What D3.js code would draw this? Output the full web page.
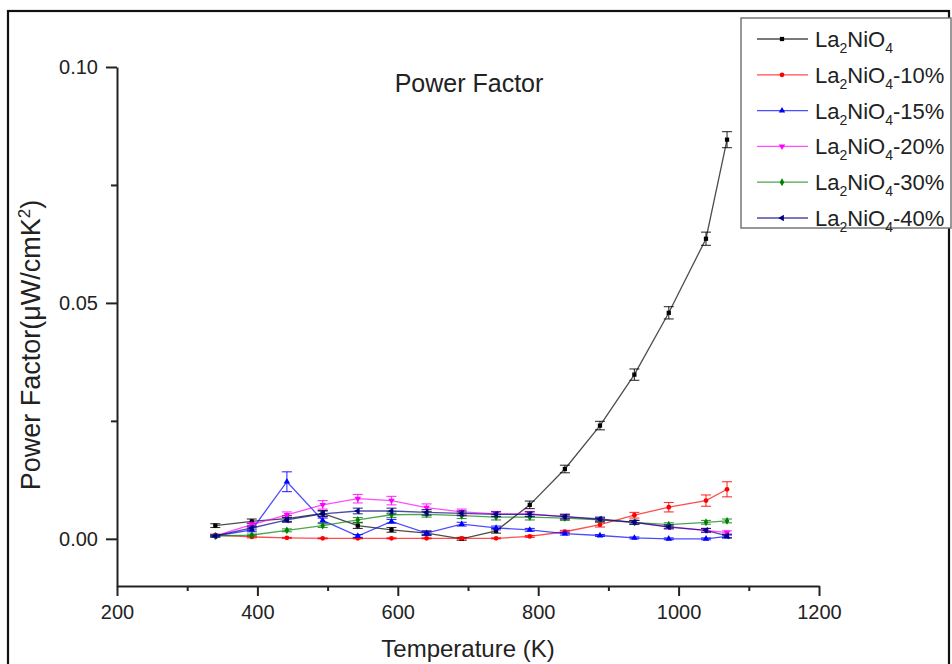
<!DOCTYPE html>
<html>
<head>
<meta charset="utf-8">
<script src="https://cdn.jsdelivr.net/npm/d3@7"></script>
<style>
  html, body { margin: 0; padding: 0; background: #fff; }
  svg { display: block; font-family: "Liberation Sans", Arial, sans-serif; }
</style>
</head>
<body>
<svg id="chart" width="952" height="664"></svg>
<script>
// ---------- data ----------
const temperatures = [340, 392, 442, 493, 543, 591, 641, 691, 740, 788, 838, 888, 937, 986, 1039, 1069];

const seriesNames = ["", "-10%", "-15%", "-20%", "-30%", "-40%"];
const seriesColors = ["#000000", "#ff0000", "#0000ff", "#ff00ff", "#008000", "#000080"];
const seriesSymbols = ["square", "circle", "triangleUp", "triangleDown", "diamond", "triangleLeft"];

const pf0  = [0.0028, 0.0037, 0.0043, 0.0054, 0.0028, 0.0019, 0.0012, 0.0000, 0.0017, 0.0072, 0.0148, 0.0240, 0.0348, 0.0479, 0.0636, 0.0846];
const err0 = [0.0004, 0.0005, 0.0006, 0.0006, 0.0006, 0.0005, 0.0005, 0.0003, 0.0005, 0.0008, 0.0008, 0.0009, 0.0012, 0.0013, 0.0014, 0.0017];

const pf10  = [0.0008, 0.0004, 0.0002, 0.0001, 0.0001, 0.0001, 0.0001, 0.0001, 0.0001, 0.0005, 0.0015, 0.0030, 0.0050, 0.0067, 0.0081, 0.0105];
const err10 = [0.0002, 0.0002, 0.0001, 0.0001, 0.0001, 0.0001, 0.0001, 0.0001, 0.0001, 0.0002, 0.0003, 0.0005, 0.0006, 0.0010, 0.0012, 0.0016];

const pf15  = [0.0006, 0.0019, 0.0121, 0.0039, 0.0006, 0.0037, 0.0012, 0.0031, 0.0023, 0.0019, 0.0011, 0.0007, 0.0002, 0.0000, 0.0000, 0.0005];
const err15 = [0.0002, 0.0004, 0.0021, 0.0005, 0.0003, 0.0004, 0.0003, 0.0004, 0.0004, 0.0003, 0.0003, 0.0002, 0.0002, 0.0002, 0.0002, 0.0003];

const pf20  = [0.0006, 0.0030, 0.0051, 0.0072, 0.0085, 0.0081, 0.0066, 0.0057, 0.0053, 0.0053, 0.0047, 0.0040, 0.0035, 0.0026, 0.0018, 0.0013];
const err20 = [0.0002, 0.0005, 0.0006, 0.0009, 0.0009, 0.0009, 0.0008, 0.0006, 0.0005, 0.0005, 0.0005, 0.0004, 0.0004, 0.0004, 0.0004, 0.0004];

const pf30  = [0.0006, 0.0008, 0.0018, 0.0028, 0.0040, 0.0051, 0.0052, 0.0049, 0.0046, 0.0046, 0.0044, 0.0040, 0.0035, 0.0030, 0.0035, 0.0038];
const err30 = [0.0002, 0.0002, 0.0003, 0.0004, 0.0005, 0.0006, 0.0006, 0.0006, 0.0006, 0.0006, 0.0005, 0.0004, 0.0004, 0.0004, 0.0004, 0.0004];

const pf40  = [0.0006, 0.0023, 0.0040, 0.0053, 0.0059, 0.0059, 0.0056, 0.0054, 0.0052, 0.0052, 0.0047, 0.0042, 0.0035, 0.0025, 0.0018, 0.0006];
const err40 = [0.0002, 0.0004, 0.0005, 0.0006, 0.0006, 0.0006, 0.0006, 0.0005, 0.0005, 0.0005, 0.0005, 0.0004, 0.0004, 0.0004, 0.0004, 0.0004];

const xMajorTicks = [200, 400, 600, 800, 1000, 1200];
const xMinorTicks = [300, 500, 700, 900, 1100];
const yMajorTicks = [0.00, 0.05, 0.10];
const yMinorTicks = [0.025, 0.075];

const titleText = "Power Factor";
const xLabelText = "Temperature (K)";

// ---------- build ----------
const seriesValues = [pf0, pf10, pf15, pf20, pf30, pf40];
const seriesErrors = [err0, err10, err15, err20, err30, err40];

const svg = d3.select("#chart");
const textColor = "#222";

// outer frame
svg.append("rect")
  .attr("x", 8).attr("y", 11).attr("width", 941).attr("height", 700)
  .attr("fill", "none").attr("stroke", "#111").attr("stroke-width", 2.2);

const x = d3.scaleLinear().domain([200, 1200]).range([117, 819]);
const y = d3.scaleLinear().domain([-0.01, 0.10]).range([586, 67]);

const axisStroke = "#222";

// x axis major
const gx = svg.append("g").attr("transform", `translate(0,${y(-0.01)})`)
  .call(d3.axisBottom(x).tickValues(xMajorTicks).tickSize(10).tickPadding(9).tickFormat(d3.format("d")).tickSizeOuter(0));
gx.select(".domain").attr("stroke", axisStroke).attr("stroke-width", 2);
gx.selectAll(".tick line").attr("stroke", axisStroke).attr("stroke-width", 2);
gx.selectAll(".tick text").attr("font-size", 20).attr("fill", textColor)
  .attr("font-family", "'Liberation Sans', Arial, sans-serif");
// x axis minor
const gxm = svg.append("g").attr("transform", `translate(0,${y(-0.01)})`)
  .call(d3.axisBottom(x).tickValues(xMinorTicks).tickSize(5).tickFormat(""));
gxm.select(".domain").remove();
gxm.selectAll(".tick line").attr("stroke", axisStroke).attr("stroke-width", 2);

// y axis major
const gy = svg.append("g").attr("transform", `translate(${x(200)},0)`)
  .call(d3.axisLeft(y).tickValues(yMajorTicks).tickSize(11).tickPadding(8).tickFormat(d3.format(".2f")).tickSizeOuter(0));
gy.select(".domain").attr("stroke", axisStroke).attr("stroke-width", 2);
gy.selectAll(".tick line").attr("stroke", axisStroke).attr("stroke-width", 2);
gy.selectAll(".tick text").attr("font-size", 20).attr("fill", textColor)
  .attr("font-family", "'Liberation Sans', Arial, sans-serif");
// y axis minor
const gym = svg.append("g").attr("transform", `translate(${x(200)},0)`)
  .call(d3.axisLeft(y).tickValues(yMinorTicks).tickSize(6).tickFormat(""));
gym.select(".domain").remove();
gym.selectAll(".tick line").attr("stroke", axisStroke).attr("stroke-width", 2);

// title
svg.append("text").attr("x", 469).attr("y", 92).attr("text-anchor", "middle")
  .attr("font-size", 25).attr("fill", textColor).text(titleText);

// x label
svg.append("text").attr("x", 468).attr("y", 657).attr("text-anchor", "middle")
  .attr("font-size", 24).attr("fill", textColor).text(xLabelText);

// y label
const yl = svg.append("text").attr("transform", "translate(40,345) rotate(-90)")
  .attr("text-anchor", "middle").attr("font-size", 27).attr("fill", textColor);
yl.append("tspan").text("Power Factor(\u03bcW/cmK");
yl.append("tspan").attr("dy", -10).attr("font-size", 17).text("2");
yl.append("tspan").attr("dy", 10).text(")");

// series
const symbolTypes = {
  square: d3.symbolSquare, circle: d3.symbolCircle, triangleUp: d3.symbolTriangle,
  triangleDown: d3.symbolTriangle, diamond: d3.symbolDiamond, triangleLeft: d3.symbolTriangle
};
const symbolRot = { square: 0, circle: 0, triangleUp: 0, triangleDown: 180, diamond: 0, triangleLeft: -90 };

const line = d3.line().x((d, i) => x(temperatures[i])).y(d => y(d));

seriesValues.forEach((vals, s) => {
  const col = seriesColors[s];
  const g = svg.append("g");
  g.append("path").datum(vals).attr("d", line)
    .attr("fill", "none").attr("stroke", col).attr("stroke-width", 1.3).attr("stroke-opacity", 0.7);
  const errs = seriesErrors[s];
  vals.forEach((v, i) => {
    const cx = x(temperatures[i]);
    const y1 = y(v + errs[i]), y2 = y(v - errs[i]);
    g.append("line").attr("x1", cx).attr("x2", cx).attr("y1", y1).attr("y2", y2)
      .attr("stroke", col).attr("stroke-width", 1.1).attr("stroke-opacity", 0.8);
    [y1, y2].forEach(yy => g.append("line").attr("x1", cx - 5).attr("x2", cx + 5).attr("y1", yy).attr("y2", yy)
      .attr("stroke", col).attr("stroke-width", 1.1).attr("stroke-opacity", 0.8));
    const sym = seriesSymbols[s];
    g.append("path").attr("d", d3.symbol().type(symbolTypes[sym]).size(18)())
      .attr("transform", `translate(${cx},${y(v)}) rotate(${symbolRot[sym]})`)
      .attr("fill", col);
  });
});

// legend
const lg = svg.append("g");
lg.append("rect").attr("x", 741).attr("y", 18).attr("width", 210).attr("height", 210)
  .attr("fill", "#fff").attr("stroke", "#777").attr("stroke-width", 1.5);
seriesNames.forEach((name, s) => {
  const cy = 39 + s * 35.8;
  const col = seriesColors[s];
  lg.append("line").attr("x1", 757).attr("x2", 808).attr("y1", cy).attr("y2", cy)
    .attr("stroke", col).attr("stroke-width", 1.3).attr("stroke-opacity", 0.7);
  const sym = seriesSymbols[s];
  lg.append("path").attr("d", d3.symbol().type(symbolTypes[sym]).size(18)())
    .attr("transform", `translate(782,${cy}) rotate(${symbolRot[sym]})`).attr("fill", col);
  const t = lg.append("text").attr("x", 815).attr("y", cy + 8).attr("font-size", 22).attr("fill", textColor);
  t.append("tspan").text("La");
  t.append("tspan").attr("dy", 6).attr("font-size", 14).text("2");
  t.append("tspan").attr("dy", -6).text("NiO");
  t.append("tspan").attr("dy", 6).attr("font-size", 14).text("4");
  t.append("tspan").attr("dy", -6).text(name);
});
</script>
</body>
</html>
